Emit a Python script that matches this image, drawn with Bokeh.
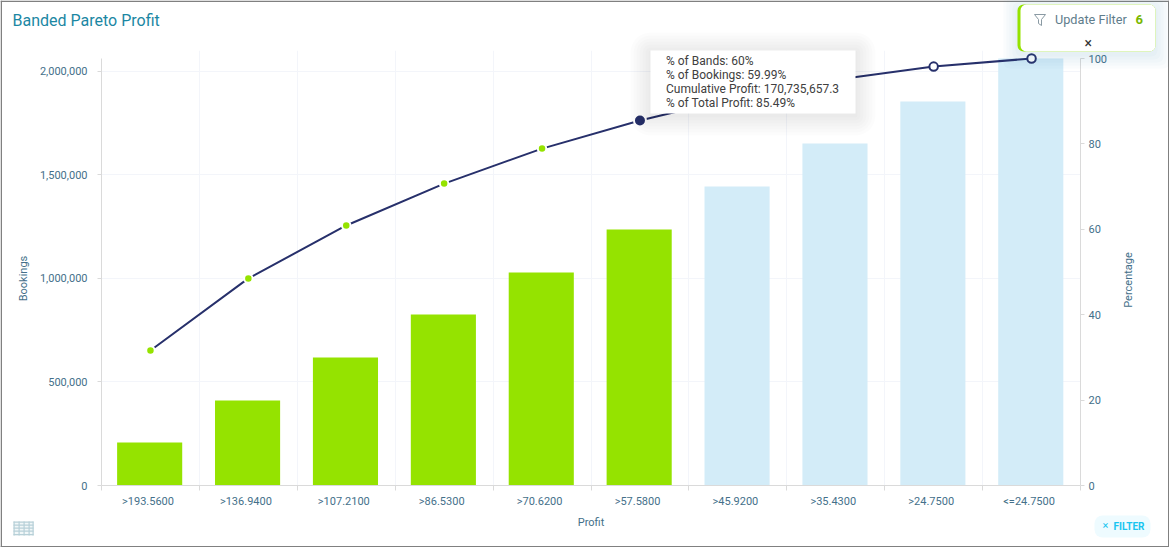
import math
from bokeh.plotting import figure
from bokeh.embed import file_html
from bokeh.resources import INLINE
from bokeh.models import (LinearAxis, Range1d, FixedTicker, NumeralTickFormatter,
                          BoxAnnotation, Label)

categories = [">193.5600", ">136.9400", ">107.2100", ">86.5300", ">70.6200",
              ">57.5800", ">45.9200", ">35.4300", ">24.7500", "<=24.7500"]
bookings = [207700, 410600, 618400, 826100, 1029000,
            1236700, 1444400, 1652200, 1855100, 2062800]
percentage = [31.6, 48.5, 60.9, 70.7, 78.9, 85.49, 91.0, 95.0, 98.1, 100.0]
selected = [True] * 6 + [False] * 4
highlight = 5
tooltip_lines = ["% of Bands: 60%", "% of Bookings: 59.99%",
                 "Cumulative Profit: 170,735,657.3", "% of Total Profit: 85.49%"]
left_ticks = [0, 500000, 1000000, 1500000, 2000000]
right_ticks = [0, 20, 40, 60, 80, 100]

W, H = 1169, 547
FONT = "Roboto"
AXC = "#44708a"
LINE = "#27306b"
GREEN = "#95e300"
PALE = "#d3ecf8"
AX = "#dadada"
GRID = "#f3f5fa"

# the plot area reaches 8px above the axes, so that the last marker is not cut
HEADROOM = 435 / 427

xs = [i + 0.5 for i in range(len(categories))]
p = figure(width=W, height=H, output_backend="svg", toolbar_location=None,
           x_range=Range1d(0, len(categories)), y_range=Range1d(0, max(bookings) * HEADROOM),
           min_border_left=101, min_border_right=89, min_border_top=50, min_border_bottom=62,
           outline_line_color=None, background_fill_color="white", border_fill_color="white")
p.styles = {"position": "absolute", "left": "0px", "top": "0px"}

p.extra_y_ranges = {"pct": Range1d(0, 100 * HEADROOM)}

bar_colors = [GREEN if s else PALE for s in selected]
p.vbar(x=[x - 0.008 for x in xs], top=bookings, width=0.665, bottom=0, fill_color=bar_colors, line_color=None)

# axes
label_pos = [x - 0.025 for x in xs]
xa = p.xaxis[0]
xa.ticker = FixedTicker(ticks=label_pos, minor_ticks=list(range(len(categories) + 1)))
xa.major_label_overrides = {x: c for x, c in zip(label_pos, categories)}
xa.major_tick_line_color = None
xa.minor_tick_line_color = AX
xa.minor_tick_in = 0
xa.minor_tick_out = 5
xa.axis_line_color = AX
xa.major_label_text_font = FONT
xa.major_label_text_font_size = "11px"
xa.major_label_text_color = AXC
xa.major_label_standoff = 3
xa.axis_label = "Profit"
xa.axis_label_text_font = FONT
xa.axis_label_text_font_size = "11px"
xa.axis_label_text_font_style = "normal"
xa.axis_label_text_color = AXC
xa.axis_label_standoff = 5

ya = p.yaxis[0]
ya.ticker = FixedTicker(ticks=left_ticks)
ya.formatter = NumeralTickFormatter(format="0,0")
ya.bounds = (0, max(bookings))
yr = LinearAxis(y_range_name="pct", ticker=FixedTicker(ticks=right_ticks), bounds=(0, 100))
p.add_layout(yr, "right")
for a in (ya, yr):
    a.axis_line_color = AX
    a.major_tick_line_color = AX
    a.major_tick_in = 0
    a.major_tick_out = 4
    a.minor_tick_line_color = None
    a.major_label_text_font = FONT
    a.major_label_text_font_size = "11px"
    a.major_label_text_color = AXC
ya.major_label_standoff = 10
yr.major_label_standoff = 4

p.xgrid.ticker = FixedTicker(ticks=list(range(len(categories) + 1)))
p.ygrid.ticker = FixedTicker(ticks=left_ticks)
p.xgrid.grid_line_color = GRID
p.ygrid.grid_line_color = GRID

# line + markers
p.line(xs, percentage, y_range_name="pct", line_color=LINE, line_width=2)
sel_x = [x for x, s, i in zip(xs, selected, range(10)) if s and i != highlight]
sel_y = [y for y, s, i in zip(percentage, selected, range(10)) if s and i != highlight]
p.scatter(sel_x, sel_y, y_range_name="pct", size=8.5, fill_color=GREEN, line_color="white", line_width=2)
p.scatter([xs[highlight]], [percentage[highlight]], y_range_name="pct", size=12, fill_color=LINE,
          line_color="white", line_width=2)
un_x = [x for x, s in zip(xs, selected) if not s]
un_y = [y for y, s in zip(percentage, selected) if not s]
p.scatter(un_x, un_y, y_range_name="pct", size=8.5, fill_color="white", line_color=LINE, line_width=2)

# ---- interface chrome: a transparent full-page figure on top, one unit = one page pixel
q = figure(width=W, height=H, output_backend="svg", toolbar_location=None,
           x_range=Range1d(0, W), y_range=Range1d(H, 0),
           min_border=0, outline_line_color=None, x_axis_location=None, y_axis_location=None,
           background_fill_alpha=0, border_fill_alpha=0)
q.grid.visible = False
q.styles = {"position": "absolute", "left": "0px", "top": "0px", "pointer-events": "none"}


def box(l, r, t, b, color, alpha=1.0, radius=0):
    q.add_layout(BoxAnnotation(left=l, right=r, top=t, bottom=b,
                               fill_color=color, fill_alpha=alpha, line_color=None,
                               border_radius=radius, editable=False))


def label(x, y, text, color="#444444", size="12px", style="normal", **kw):
    q.add_layout(Label(x=x, y=y, text=text,
                       text_font=FONT, text_font_size=size, text_font_style=style, text_color=color,
                       text_baseline="middle", **kw))


# chart title
label(12, 19.5, "Banded Pareto Profit", color="#1b87a3", size="16px")

# vertical axis titles
label(22.5, 278, "Bookings", color=AXC, size="11px", angle=math.pi / 2, text_align="center")
label(1128, 279.5, "Percentage", color=AXC, size="11px", angle=math.pi / 2, text_align="center")

# page border
for l, r, t, b in [(0, W, 0, 1.5), (0, W, H - 1.5, H), (0, 1.5, 0, H), (W - 1.5, W, 0, H)]:
    box(l, r, t, b, "#808080")

# tooltip
for g in (20, 17, 14, 11, 8, 5, 2):
    box(650 - g, 855 + g, 50 - g + 2, 113 + g + 2, "#000000", alpha=0.012, radius=g)
box(650, 855, 50, 113, "white")
for i, t in enumerate(tooltip_lines):
    label(665.5, 60.5 + 14 * i, t, color="#404040", size="12px")

# update filter panel
for g in (14, 11, 8, 5, 2):
    box(1017 - g, 1155 + g, 4 - g + 3, 51 + g + 3, "#1b87a3", alpha=0.022, radius=6)
box(1017, 1155, 4, 51, GREEN, radius=6)
box(1020, 1155, 4, 51, "white", radius=6)
label(1054.5, 19, "Update Filter", color="#5f7d8c", size="12.7px")
label(1135, 19, "6", color="#7ab800", size="13px", style="bold")
label(1084, 42.5, "\u00d7", color="#333333", size="14px")

# funnel icon
q.line([1034, 1045, 1041, 1041, 1038, 1038, 1034], [14, 14, 19, 25, 23, 19, 14],
       line_color="#8a9aa3", line_width=1, level="overlay")

# table icon
box(13, 33, 521, 535, "#f1f7f8")
for yy in (521, 524, 527, 530, 533.5):
    box(13, 33, yy, yy + 1.2, "#b7d0d8")
for xx in (13, 18, 23, 28, 32):
    box(xx, xx + 1.2, 521, 535, "#b7d0d8")

# filter button
box(1094, 1150, 515, 537, "#eefbff", radius=8)
label(1102, 525, "\u00d7", color="#19c5f0", size="11px")
label(1113, 525.5, "FILTER", color="#19c5f0", size="10px", style="bold")

open("out.html", "w").write(file_html((p, q), INLINE))
